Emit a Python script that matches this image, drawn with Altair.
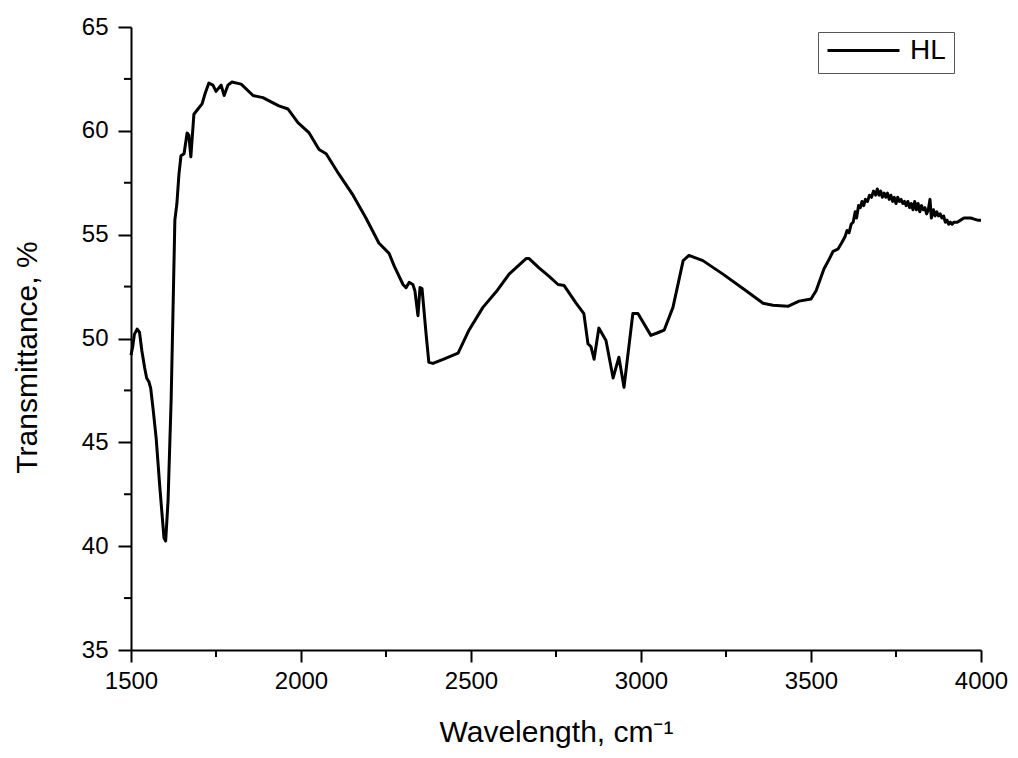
import altair as alt
import pandas as pd

# Wavenumber (cm^-1) and transmittance (%)
wavenumber = [
    1500, 1505, 1510, 1518, 1525, 1532, 1540, 1546, 1553, 1558, 1565, 1574, 1585, 1597, 1602,
    1609, 1618, 1623, 1629, 1635, 1641, 1647, 1656, 1665, 1670, 1676, 1685, 1697, 1709, 1718,
    1729, 1741, 1750, 1765, 1774, 1785, 1797, 1824, 1859, 1888, 1935, 1962, 1991, 2024, 2053,
    2074, 2112, 2153, 2191, 2229, 2259, 2274, 2300, 2309, 2318, 2329, 2335, 2344, 2350, 2356,
    2368, 2376, 2388, 2418, 2462, 2494, 2535, 2574, 2612, 2662, 2671, 2700, 2729, 2756, 2774,
    2809, 2832, 2844, 2853, 2862, 2876, 2897, 2918, 2935, 2950, 2976, 2991, 3029, 3053, 3068,
    3094, 3124, 3141, 3182, 3241, 3309, 3359, 3388, 3432, 3465, 3500, 3515, 3538, 3553, 3565,
    3579, 3590, 3600, 3606, 3612, 3618, 3624, 3630, 3634, 3640, 3645, 3650, 3655, 3660, 3666,
    3672, 3678, 3684, 3690, 3695, 3700, 3705, 3710, 3715, 3720, 3725, 3730, 3735, 3740, 3745,
    3750, 3755, 3760, 3765, 3770, 3775, 3780, 3785, 3790, 3795, 3800, 3805, 3810, 3815, 3820,
    3825, 3830, 3835, 3840, 3845, 3850, 3854, 3860, 3865, 3870, 3875, 3880, 3885, 3890, 3895,
    3900, 3905, 3910, 3915, 3920, 3930, 3940, 3950, 3960, 3970, 3980, 3990, 4000,
]
transmittance = [
    49.2, 49.6, 50.2, 50.45, 50.3, 49.4, 48.6, 48.1, 47.9, 47.6, 46.6, 45.2, 42.8, 40.4, 40.25,
    42.2, 47.0, 50.9, 55.7, 56.5, 57.9, 58.8, 58.9, 59.9, 59.8, 58.75, 60.8, 61.05, 61.3, 61.8,
    62.3, 62.2, 61.9, 62.2, 61.7, 62.2, 62.35, 62.25, 61.7, 61.6, 61.2, 61.05, 60.4, 59.9, 59.1,
    58.9, 57.9, 56.9, 55.8, 54.6, 54.1, 53.5, 52.6, 52.45, 52.7, 52.6, 52.3, 51.1, 52.45, 52.4,
    50.2, 48.85, 48.8, 49.0, 49.3, 50.4, 51.5, 52.25, 53.1, 53.85, 53.85, 53.4, 53.0, 52.6, 52.55,
    51.7, 51.2, 49.75, 49.6, 49.0, 50.5, 49.9, 48.1, 49.1, 47.65, 51.2, 51.2, 50.15, 50.3, 50.4,
    51.5, 53.75, 54.0, 53.75, 53.1, 52.3, 51.7, 51.6, 51.55, 51.8, 51.9, 52.3, 53.35, 53.8, 54.2,
    54.3, 54.6, 54.9, 55.2, 55.1, 55.5, 55.6, 56.1, 55.8, 56.4, 56.3, 56.6, 56.4, 56.7, 56.6,
    56.9, 56.8, 57.1, 56.9, 57.2, 56.9, 57.1, 56.8, 57.0, 56.8, 57.0, 56.7, 56.9, 56.6, 56.8,
    56.5, 56.8, 56.6, 56.7, 56.5, 56.6, 56.4, 56.6, 56.3, 56.5, 56.2, 56.6, 56.2, 56.5, 56.1,
    56.4, 56.2, 56.3, 56.0, 56.2, 56.7, 55.8, 56.2, 55.9, 56.1, 55.9, 56.0, 55.8, 55.9, 55.6,
    55.7, 55.5, 55.6, 55.5, 55.6, 55.6, 55.7, 55.8, 55.8, 55.8, 55.75, 55.7, 55.7,
]
series_name = "HL"

x_major = [1500, 2000, 2500, 3000, 3500, 4000]
x_minor = [1750, 2250, 2750, 3250, 3750]
y_major = [35, 40, 45, 50, 55, 60, 65]
y_minor = [37.5, 42.5, 47.5, 52.5, 57.5, 62.5]

FONT = "Liberation Sans"
W, H = 850, 623

df = pd.DataFrame({"wn": wavenumber, "T": transmittance, "series": series_name})

xscale = alt.Scale(domain=[1500, 4000], nice=False, zero=False)
yscale = alt.Scale(domain=[35, 65], nice=False, zero=False)

x_axis = alt.Axis(values=x_major, title="Wavelength, cm\u207b\u00b9", format="d",
                  titleX=W / 2, titleY=91, titleBaseline="alphabetic",
                  titleAlign="center", titleFontSize=30,
                  tickSize=12, labelPadding=7, labelFlush=False, labelOverlap=False)
y_axis = alt.Axis(values=y_major, title="Transmittance, %", format="d",
                  titleX=-104, titleY=330, titleAngle=270, titleAlign="center",
                  titleBaseline="middle", titleFontSize=30,
                  tickSize=13, labelPadding=10, labelFlush=False, labelOverlap=False)

line = alt.Chart(df).mark_line(strokeWidth=3, color="black", strokeJoin="round").encode(
    x=alt.X("wn:Q", scale=xscale, axis=x_axis),
    y=alt.Y("T:Q", scale=yscale, axis=y_axis),
    color=alt.Color("series:N", scale=alt.Scale(range=["black"]),
                    legend=alt.Legend(title=None, orient="none", legendX=687, legendY=5,
                                      symbolType="stroke", symbolSize=5184,
                                      symbolStrokeWidth=3, labelFontSize=28,
                                      labelFont=FONT, labelOffset=9, padding=8,
                                      clipHeight=21, strokeColor="#555555",
                                      fillColor="white", labelColor="black")),
)

minor_x = alt.Chart(pd.DataFrame({"wn": x_minor})).mark_rule(
    color="black", strokeWidth=2).encode(
    x=alt.X("wn:Q", scale=xscale, axis=x_axis),
    y=alt.value(H),
    y2=alt.value(H + 7),
)

minor_y = alt.Chart(pd.DataFrame({"T": y_minor})).mark_rule(
    color="black", strokeWidth=2).encode(
    y=alt.Y("T:Q", scale=yscale, axis=y_axis),
    x=alt.value(-7),
    x2=alt.value(0),
)

chart = alt.layer(line, minor_x, minor_y).properties(
    width=W, height=H,
    autosize=alt.AutoSizeParams(type="none"),
    padding={"left": 123, "top": 19, "right": 29, "bottom": 100},
    background="white",
).configure_view(stroke=None).configure_axis(
    grid=False, domainColor="black", domainWidth=2, tickColor="black", tickWidth=2,
    labelColor="black", titleColor="black", labelFont=FONT, titleFont=FONT,
    labelFontSize=24, titleFontWeight="normal",
)

chart.save("out.html", embed_options={"renderer": "svg", "actions": False})
